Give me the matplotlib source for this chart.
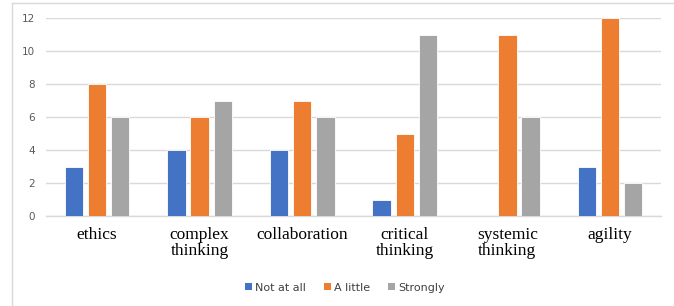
import numpy as np
import matplotlib.pyplot as plt
from matplotlib.lines import Line2D
from matplotlib.patches import Patch

# 資料
categories = ['ethics', 'complex\nthinking', 'collaboration', 'critical\nthinking',
              'systemic\nthinking', 'agility']
not_at_all = [3, 4, 4, 1, 0, 3]
a_little = [8, 6, 7, 5, 11, 12]
strongly = [6, 7, 6, 11, 6, 2]
series_names = ['Not at all', 'A little', 'Strongly']
colors = ['#4472C4', '#ED7D31', '#A5A5A5']

fig = plt.figure(figsize=(6.74, 3.06), dpi=100)
ax = fig.add_axes([0.068, 0.294, 0.913, 0.647])

x = np.arange(len(categories))
w = 0.18
step = 0.225
for i, (vals, c) in enumerate(zip([not_at_all, a_little, strongly], colors)):
    ax.bar(x + (i - 1) * step, vals, width=w, color=c, edgecolor='white',
           linewidth=0.6, zorder=3)

ax.set_xlim(-0.5, len(categories) - 0.5)
ax.set_ylim(0, 12)
ax.set_yticks(range(0, 13, 2))
ax.grid(axis='y', color='#D9D9D9', linewidth=1, zorder=0)
for s in ['top', 'right', 'left']:
    ax.spines[s].set_visible(False)
ax.spines['bottom'].set_color('#D9D9D9')
ax.spines['bottom'].set_linewidth(1)
ax.tick_params(axis='both', length=0)
ax.tick_params(axis='y', labelsize=7.5, labelcolor='#595959', pad=8)
ax.set_xticks(x)
ax.set_xticklabels(categories, fontfamily='Liberation Serif', fontsize=12.5,
                   linespacing=0.95)
ax.tick_params(axis='x', pad=8)

# 圖例
handles = [Patch(facecolor=c, edgecolor='none') for c in colors]
fig.legend(handles, series_names, loc='center', bbox_to_anchor=(0.512, 0.06),
           ncol=3, frameon=False, fontsize=8, handlelength=0.6, handleheight=0.6,
           handletextpad=0.3, columnspacing=1.6, labelcolor='#404040')

# 外框（左、上）
fig.add_artist(Line2D([12 / 674, 12 / 674], [0, 1 - 3 / 306], color='#D9D9D9',
                      linewidth=1, transform=fig.transFigure))
fig.add_artist(Line2D([12 / 674, 1], [1 - 3 / 306, 1 - 3 / 306], color='#D9D9D9',
                      linewidth=1, transform=fig.transFigure))

fig.savefig('out.png', dpi=100)
